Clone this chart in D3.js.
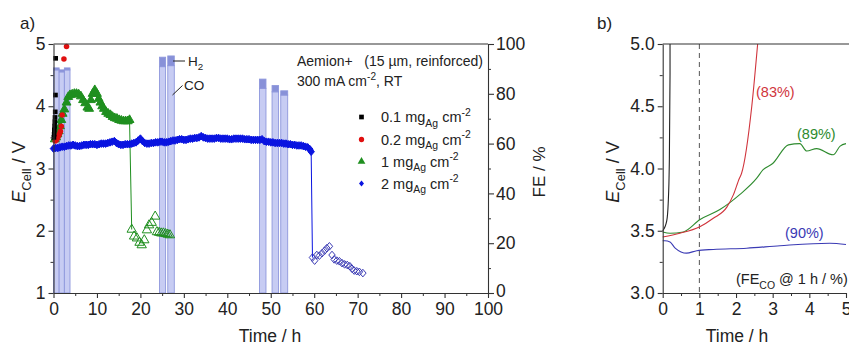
<!DOCTYPE html>
<html><head><meta charset="utf-8">
<script src="https://cdn.jsdelivr.net/npm/d3@7"></script>
<style>
html,body{margin:0;padding:0;background:#fff;}
svg{display:block;font-family:"Liberation Sans",Arial,sans-serif;}
text{white-space:pre;}
</style></head>
<body>
<svg id="c" width="849" height="347"></svg>
<script>
// ---------- DATA ----------
// Panel a: FE bars (time window, CO and H2 faradaic efficiency, %)
const barStart = [0.0, 1.3, 2.5, 24.4, 26.3, 47.4, 50.3, 52.3];
const barEnd   = [1.3, 2.5, 3.8, 25.8, 27.8, 48.9, 51.8, 53.9];
const barCO    = [89.6, 88.8, 89.6, 90.9, 91.3, 82.2, 80.8, 79.5];
const barH2    = [0.8, 0.8, 0.8, 3.8, 3.9, 3.7, 2.5, 1.7];

// 0.1 mg_Ag cm-2 (black squares)
const t01 = [0.1, 0.15, 0.2, 0.25, 0.3, 0.35, 0.4, 0.45, 0.5];
const E01 = [3.5, 3.55, 3.62, 3.68, 3.75, 3.82, 3.91, 4.18, 4.77];
// 0.2 mg_Ag cm-2 (red circles)
const t02 = [0.4, 0.7, 1.0, 1.2, 1.4, 1.6, 1.8, 2.0, 2.4, 3.0];
const E02 = [3.44, 3.46, 3.5, 3.53, 3.56, 3.6, 3.68, 3.86, 4.76, 4.96];
// 1 mg_Ag cm-2 (green triangles, filled = operating, open = after failure)
const t1 = [0.3,0.6,0.9,1.2,1.5,1.8,2.1,2.5,3.0,3.4,3.8,4.3,4.8,5.3,5.8,6.3,6.8,7.3,7.8,8.2,8.6,9.0,9.5,10.0,10.4,10.8,11.2,11.6,12.1,12.6,13.1,13.6,14.1,14.6,15.1,15.6,16.1,16.6,17.1,17.5];
const E1 = [3.47,3.5,3.55,3.6,3.68,3.78,3.88,3.95,4.06,4.15,4.18,4.19,4.2,4.2,4.19,4.16,4.1,4.05,3.98,3.96,4.1,4.2,4.26,4.2,4.12,4.06,4.0,3.96,3.91,3.88,3.86,3.83,3.81,3.8,3.78,3.77,3.76,3.76,3.76,3.78];
const t1o = [18.0,18.55,19.2,19.8,20.3,20.9,21.5,22.0,22.6,23.4,23.8,24.3,24.8,25.3,25.8,26.3,26.8];
const E1o = [2.02,1.91,1.88,1.81,1.77,1.85,2.01,2.09,2.13,2.23,1.98,1.97,1.96,1.96,1.95,1.94,1.93];
// 2 mg_Ag cm-2 (blue diamonds)
const t2 = [0,0.5,1,1.5,2,2.5,3,3.5,4,4.5,5,5.5,6,6.5,7,7.5,8,8.5,9,9.5,10,10.5,11,11.5,12,12.5,13,13.5,14,14.5,15,15.5,16,16.5,17,17.5,18,18.5,19,19.5,20,20.5,21,21.5,22,22.5,23,23.5,24,24.5,25,25.5,26,26.5,27,27.5,28,28.5,29,29.5,30,30.5,31,31.5,32,32.5,33,33.5,34,34.5,35,35.5,36,36.5,37,37.5,38,38.5,39,39.5,40,40.5,41,41.5,42,42.5,43,43.5,44,44.5,45,45.5,46,46.5,47,47.5,48,48.5,49,49.5,50,50.5,51,51.5,52,52.5,53,53.5,54,54.5,55,55.5,56,56.5,57,57.5,58,58.5,59,59.3];
const E2 = [3.32,3.33,3.33,3.34,3.35,3.35,3.36,3.37,3.37,3.38,3.37,3.36,3.36,3.37,3.38,3.38,3.38,3.39,3.39,3.39,3.38,3.39,3.4,3.4,3.4,3.41,3.42,3.43,3.44,3.41,3.39,3.38,3.38,3.39,3.39,3.39,3.4,3.41,3.42,3.45,3.48,3.44,3.41,3.4,3.4,3.41,3.41,3.42,3.42,3.43,3.43,3.42,3.42,3.43,3.44,3.45,3.45,3.46,3.47,3.47,3.46,3.46,3.47,3.48,3.48,3.49,3.49,3.5,3.52,3.5,3.49,3.48,3.48,3.48,3.48,3.49,3.49,3.48,3.48,3.48,3.48,3.47,3.47,3.48,3.48,3.48,3.48,3.48,3.47,3.47,3.47,3.46,3.46,3.46,3.46,3.46,3.47,3.44,3.43,3.43,3.42,3.42,3.41,3.41,3.41,3.41,3.4,3.4,3.39,3.39,3.38,3.38,3.37,3.37,3.37,3.36,3.35,3.34,3.31,3.27];
const t2o = [59.6,60.1,60.6,61.2,61.8,62.4,62.9,63.5,64.1,64.6,65.2,65.8,66.4,67.0,67.6,68.2,68.7,69.2,69.8,70.4,71.2];
const E2o = [1.57,1.52,1.61,1.6,1.64,1.68,1.72,1.75,1.61,1.54,1.52,1.51,1.48,1.46,1.45,1.43,1.39,1.36,1.35,1.34,1.32];

// Panel b: first 5 h, cell voltage traces
const tb01 = [0, 0.11, 0.15, 0.18, 0.2, 0.2];
const Eb01 = [3.5, 3.58, 3.72, 4.04, 4.76, 5.0];
const tb02 = [0, 0.47, 1.0, 1.38, 1.75, 1.93, 2.09, 2.15, 2.43, 2.59];
const Eb02 = [3.45, 3.48, 3.53, 3.6, 3.69, 3.79, 3.92, 3.96, 4.5, 5.0];
const tb1 = [0, 0.2, 0.56, 1.02, 1.56, 2.1, 2.56, 2.74, 3.0, 3.43, 3.74, 3.93, 4.2, 4.65, 4.84, 5.0];
const Eb1 = [3.49, 3.48, 3.49, 3.59, 3.67, 3.79, 3.92, 3.99, 4.04, 4.19, 4.2, 4.14, 4.16, 4.11, 4.18, 4.2];
const tb2 = [0, 0.06, 0.2, 0.34, 0.5, 0.65, 0.93, 1.38, 2.29, 3.2, 4.56, 5.0];
const Eb2 = [3.42, 3.42, 3.41, 3.36, 3.33, 3.32, 3.34, 3.35, 3.36, 3.38, 3.4, 3.39];
const feLabels = ["(83%)", "(89%)", "(90%)"];

const xTicksA = [0,10,20,30,40,50,60,70,80,90,100];
const yTicksA = [1,2,3,4,5];
const feTicks = [0,20,40,60,80,100];
const xTicksB = [0,1,2,3,4,5];
const yTicksB = [3.0,3.5,4.0,4.5,5.0];

// ---------- DRAW ----------
const svg = d3.select("#c");
const AX = "#333", TXT = "#222";
const cBlack = "#000", cRed = "#e01010", cGreen = "#1f8f1f", cBlue = "#0a14e0";
const cRedL = "#d0343c", cGreenL = "#2e8b2e", cBlueL = "#3a3ab4";
const FS = 17.5;

function rich(sel, segs, size) {
  let shift = 0;
  segs.forEach(([t, k]) => {
    const target = k === "sub" ? size * 0.32 : k === "sup" ? -size * 0.42 : 0;
    const ts = sel.append("tspan").text(t).attr("dy", target - shift)
      .attr("font-size", (k === "sub" || k === "sup") ? size * 0.72 : size);
    if (k === "i") ts.attr("font-style", "italic");
    shift = target;
  });
}

function styleAxis(g, fs) {
  g.selectAll(".domain").attr("stroke", AX).attr("stroke-width", 1.1);
  g.selectAll(".tick line").attr("stroke", AX).attr("stroke-width", 1.1);
  g.selectAll(".tick text").attr("fill", TXT).attr("font-size", fs)
    .attr("font-family", '"Liberation Sans",Arial,sans-serif');
}
function minor(g) {
  g.selectAll(".domain").remove();
  g.selectAll(".tick text").remove();
  g.selectAll(".tick line").attr("stroke", AX).attr("stroke-width", 1);
}

// ===== Panel a =====
const xa = d3.scaleLinear([0, 100], [53.5, 488]);
const ya = d3.scaleLinear([1, 5], [293, 44]);
const yf = d3.scaleLinear([0, 100], [293, 44]);
const ga = svg.append("g");

// bars
const bars = barStart.map((s, i) => ({s, e: barEnd[i], co: barCO[i], h2: barH2[i]}));
ga.selectAll("rect.co").data(bars).join("rect").attr("class", "co")
  .attr("x", d => xa(d.s)).attr("width", d => xa(d.e) - xa(d.s))
  .attr("y", d => yf(d.co)).attr("height", d => yf(0) - yf(d.co))
  .attr("fill", "#c7ccf3").attr("stroke", "#8e97dc").attr("stroke-width", 0.9);
ga.selectAll("rect.h2").data(bars).join("rect").attr("class", "h2")
  .attr("x", d => xa(d.s)).attr("width", d => xa(d.e) - xa(d.s))
  .attr("y", d => yf(d.co + d.h2)).attr("height", d => yf(d.co) - yf(d.co + d.h2))
  .attr("fill", "#8891d8").attr("stroke", "#8e97dc").attr("stroke-width", 0.9);

// transition lines
const line = d3.line();
ga.append("path").attr("d", line([[xa(t1[t1.length-1]), ya(E1[E1.length-1])], [xa(t1o[0]), ya(E1o[0])]]))
  .attr("stroke", cGreen).attr("stroke-width", 1).attr("fill", "none");
ga.append("path").attr("d", line([[xa(t2[t2.length-1]), ya(E2[E2.length-1])], [xa(t2o[0]), ya(E2o[0])]]))
  .attr("stroke", cBlue).attr("stroke-width", 1).attr("fill", "none");

function markers(ts, Es, type, size, fill, stroke) {
  const sym = d3.symbol().type(type).size(size);
  ga.append("g").selectAll("path").data(ts.map((t, i) => [t, Es[i]])).join("path")
    .attr("d", sym).attr("transform", d => `translate(${xa(d[0])},${ya(d[1])})`)
    .attr("fill", fill).attr("stroke", stroke).attr("stroke-width", 1);
}
const diamond = { draw(ctx, size) { const r = Math.sqrt(size) / 2 * 1.15; ctx.moveTo(0, -r); ctx.lineTo(r*0.85, 0); ctx.lineTo(0, r); ctx.lineTo(-r*0.85, 0); ctx.closePath(); } };

markers(t2, E2, diamond, 44, cBlue, cBlue);
markers(t2o, E2o, diamond, 44, "none", cBlueL);
markers(t1o, E1o, d3.symbolTriangle, 38, "none", cGreen);
markers(t1, E1, d3.symbolTriangle, 34, cGreen, cGreen);
markers(t02, E02, d3.symbolCircle, 24, cRed, "none");
markers(t01, E01, d3.symbolSquare, 22, cBlack, "none");

// axes
const axL = ga.append("g").attr("transform", `translate(${xa(0)},0)`)
  .call(d3.axisLeft(ya).tickValues(yTicksA).tickSize(5).tickSizeOuter(0).tickPadding(3).tickFormat(d3.format("d")));
styleAxis(axL, FS);
minor(ga.append("g").attr("transform", `translate(${xa(0)},0)`)
  .call(d3.axisLeft(ya).tickValues([1.5,2.5,3.5,4.5]).tickSize(3)));
const axB = ga.append("g").attr("transform", `translate(0,${ya(1)})`)
  .call(d3.axisBottom(xa).tickValues(xTicksA).tickSize(5).tickSizeOuter(0).tickPadding(5).tickFormat(d3.format("d")));
styleAxis(axB, FS);
minor(ga.append("g").attr("transform", `translate(0,${ya(1)})`)
  .call(d3.axisBottom(xa).tickValues([5,15,25,35,45,55,65,75,85,95]).tickSize(3)));
const axR = ga.append("g").attr("transform", `translate(${xa(100)},0)`)
  .call(d3.axisRight(yf).tickValues(feTicks).tickSize(6).tickSizeOuter(0).tickPadding(2).tickFormat(d3.format("d")));
styleAxis(axR, FS);
axR.selectAll(".tick text").filter(d => d === 0).attr("dy", "0.2em");
minor(ga.append("g").attr("transform", `translate(${xa(100)},0)`)
  .call(d3.axisRight(yf).tickValues([10,30,50,70,90]).tickSize(3)));
ga.append("line").attr("x1", xa(0)).attr("x2", xa(100)).attr("y1", ya(5)).attr("y2", ya(5))
  .attr("stroke", AX).attr("stroke-width", 1.1);

// titles
svg.append("text").attr("x", 20).attr("y", 29).attr("font-size", 17).attr("fill", TXT).text("a)");
rich(svg.append("text").attr("text-anchor", "middle").attr("fill", TXT)
  .attr("transform", `translate(25,172) rotate(-90)`),
  [["E", "i"], ["Cell", "sub"], [" / V", ""]], 18);
svg.append("text").attr("text-anchor", "middle").attr("fill", TXT).attr("font-size", 17)
  .attr("transform", `translate(545,172) rotate(-90)`).text("FE / %");
svg.append("text").attr("x", 270).attr("y", 342).attr("text-anchor", "middle")
  .attr("fill", TXT).attr("font-size", 17.5).text("Time / h");

// annotations
svg.append("text").attr("x", 297).attr("y", 66).attr("font-size", 14).attr("fill", TXT)
  .text("Aemion+   (15 \u00b5m, reinforced)");
rich(svg.append("text").attr("x", 297).attr("y", 86).attr("fill", TXT),
  [["300 mA cm", ""], ["-2", "sup"], [", RT", ""]], 14);
svg.append("line").attr("x1", 173).attr("x2", 185).attr("y1", 61).attr("y2", 61).attr("stroke", TXT).attr("stroke-width", 1);
rich(svg.append("text").attr("x", 188).attr("y", 66).attr("fill", TXT), [["H", ""], ["2", "sub"]], 13.5);
svg.append("line").attr("x1", 172.5).attr("y1", 95).attr("x2", 182.5).attr("y2", 85.5).attr("stroke", TXT).attr("stroke-width", 1);
svg.append("text").attr("x", 184).attr("y", 90).attr("font-size", 13.5).attr("fill", TXT).text("CO");

// legend
const legItems = [
  {sym: d3.symbolSquare, sz: 22, c: cBlack, segs: [["0.1 mg", ""], ["Ag", "sub"], [" cm", ""], ["-2", "sup"]]},
  {sym: d3.symbolCircle, sz: 22, c: cRed, segs: [["0.2 mg", ""], ["Ag", "sub"], [" cm", ""], ["-2", "sup"]]},
  {sym: d3.symbolTriangle, sz: 26, c: cGreen, segs: [["1 mg", ""], ["Ag", "sub"], [" cm", ""], ["-2", "sup"]]},
  {sym: diamond, sz: 26, c: cBlue, segs: [["2 mg", ""], ["Ag", "sub"], [" cm", ""], ["-2", "sup"]]}
];
const legY = [117, 139.5, 161.5, 183.5];
legItems.forEach((d, i) => {
  svg.append("path").attr("d", d3.symbol().type(d.sym).size(d.sz)())
    .attr("transform", `translate(361.5,${legY[i]})`).attr("fill", d.c);
  rich(svg.append("text").attr("x", 381).attr("y", legY[i] + 5).attr("fill", TXT), d.segs, 14.5);
});

// ===== Panel b =====
const xb = d3.scaleLinear([0, 5], [662.7, 846]);
const yb = d3.scaleLinear([3, 5], [293, 44]);
const gb = svg.append("g");
gb.append("line").attr("x1", xb(1)).attr("x2", xb(1)).attr("y1", yb(5)).attr("y2", yb(3))
  .attr("stroke", "#555").attr("stroke-width", 1).attr("stroke-dasharray", "5,4");
const lb = d3.line().x(d => xb(d[0])).y(d => yb(d[1]));
[[tb2, Eb2, cBlueL], [tb1, Eb1, cGreenL], [tb02, Eb02, cRedL], [tb01, Eb01, "#222"]].forEach(([ts, Es, c]) => {
  gb.append("path").attr("d", lb.curve(d3.curveMonotoneX)(ts.map((t, i) => [t, Es[i]])))
    .attr("fill", "none").attr("stroke", c).attr("stroke-width", 1.1);
});
const bL = gb.append("g").attr("transform", `translate(${xb(0)},0)`)
  .call(d3.axisLeft(yb).tickValues(yTicksB).tickSize(5).tickSizeOuter(0).tickPadding(3).tickFormat(d3.format(".1f")));
styleAxis(bL, FS);
minor(gb.append("g").attr("transform", `translate(${xb(0)},0)`)
  .call(d3.axisLeft(yb).tickValues([3.25,3.75,4.25,4.75]).tickSize(3)));
const bB = gb.append("g").attr("transform", `translate(0,${yb(3)})`)
  .call(d3.axisBottom(xb).tickValues(xTicksB).tickSize(5).tickSizeOuter(0).tickPadding(5).tickFormat(d3.format("d")));
styleAxis(bB, FS);
minor(gb.append("g").attr("transform", `translate(0,${yb(3)})`)
  .call(d3.axisBottom(xb).tickValues([0.5,1.5,2.5,3.5,4.5]).tickSize(3)));
gb.append("line").attr("x1", xb(0)).attr("x2", 849).attr("y1", yb(5)).attr("y2", yb(5))
  .attr("stroke", AX).attr("stroke-width", 1.1);

svg.append("text").attr("x", 597).attr("y", 29).attr("font-size", 17).attr("fill", TXT).text("b)");
rich(svg.append("text").attr("text-anchor", "middle").attr("fill", TXT)
  .attr("transform", `translate(619,172) rotate(-90)`),
  [["E", "i"], ["Cell", "sub"], [" / V", ""]], 18);
svg.append("text").attr("x", 737).attr("y", 342).attr("text-anchor", "middle")
  .attr("fill", TXT).attr("font-size", 17.5).text("Time / h");
const labPos = [[756, 97, cRedL], [797, 138.5, cGreenL], [785, 238, cBlueL]];
feLabels.forEach((s, i) => {
  svg.append("text").attr("x", labPos[i][0]).attr("y", labPos[i][1]).attr("font-size", 14.5)
    .attr("fill", labPos[i][2]).text(s);
});
rich(svg.append("text").attr("x", 736).attr("y", 284).attr("fill", TXT),
  [["(FE", ""], ["CO", "sub"], [" @ 1 h / %)", ""]], 14.5);
</script>
</body></html>
